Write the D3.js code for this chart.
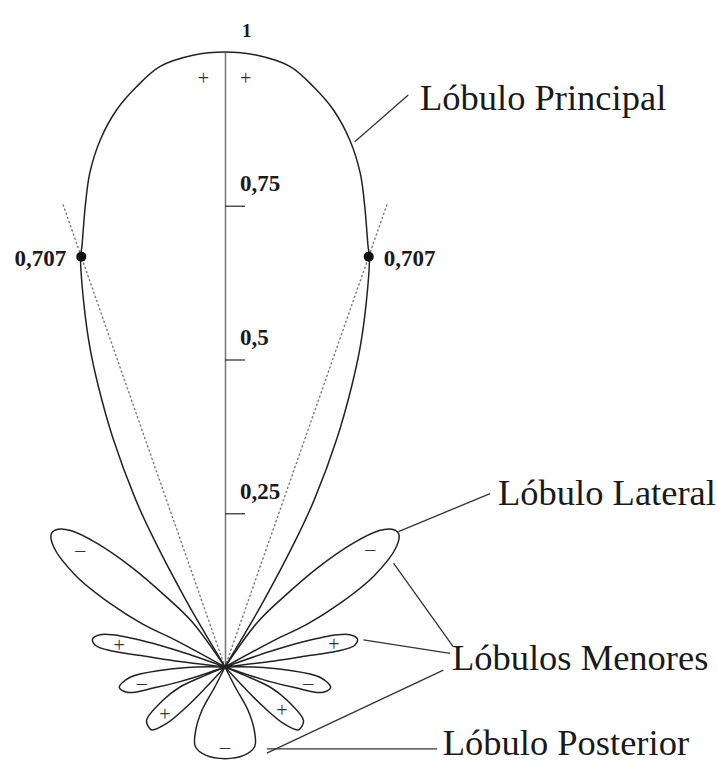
<!DOCTYPE html>
<html><head><meta charset="utf-8">
<script src="https://cdn.jsdelivr.net/npm/d3@7"></script>
<style>body{margin:0;background:#fff}</style>
</head><body>
<svg id="chart" width="717" height="762"></svg>
<script>
// ---------------- data (angles in degrees from the main axis, radii normalised) ----------------
const axisTicks = [0.25, 0.5, 0.75, 1];

const mainLobeAngles = [0, 3, 6.2, 8.7, 11, 13.3, 15.3, 16.9, 18.8, 19.4, 21.2, 22.9, 24.3, 26.05, 28.1, 29.1, 30.3, 30.7];
const mainLobeRadii  = [1, 0.996, 0.982, 0.954, 0.923, 0.881, 0.833, 0.782, 0.722, 0.707, 0.635, 0.565, 0.5, 0.416, 0.308, 0.236, 0.126, 0.06];

const sideLobeAngles = [36, 40, 43, 46, 48.5, 50.5, 52.5, 55, 58.5, 61, 62.5, 61.5];
const sideLobeRadii  = [0.09, 0.15, 0.22, 0.29, 0.335, 0.352, 0.356, 0.34, 0.285, 0.215, 0.15, 0.09];

const minorLobe1Angles = [71, 72.2, 74, 75.5, 78, 80.5, 82, 82.3, 83];
const minorLobe1Radii  = [0.077, 0.134, 0.19, 0.21, 0.22, 0.214, 0.183, 0.13, 0.074];

const minorLobe2Angles = [90, 92.8, 96.3, 101, 104.7, 106.4, 108, 109];
const minorLobe2Radii  = [0.046, 0.10, 0.156, 0.175, 0.163, 0.12, 0.077, 0.031];

const minorLobe3Angles = [113, 114, 118.1, 124.1, 127.9, 130.7, 134, 136, 137];
const minorLobe3Radii  = [0.035, 0.08, 0.114, 0.154, 0.158, 0.157, 0.132, 0.09, 0.044];

const backLobeAngles = [153, 152, 155, 159.5, 168, 180];
const backLobeRadii  = [0.036, 0.08, 0.112, 0.138, 0.147, 0.149];

const halfPowerAngle = 19.3;
const halfPowerValue = 0.707;
const guideLength = 0.8;

// sign marks (polar)
const signAngles  = [-2.1, 2.0, -51, 51, -78, 78, -101, 101, -128, 127, 180];
const signRadii   = [0.958, 0.958, 0.303, 0.304, 0.176, 0.181, 0.138, 0.138, 0.124, 0.116, 0.13];
const signSymbols = ["+", "+", "–", "–", "+", "+", "–", "–", "+", "+", "–"];

// annotation labels (cartesian, normalised units: x right, y up)
const labelTexts = ["Lóbulo Principal", "Lóbulo Lateral", "Lóbulos Menores", "Lóbulo Posterior"];
const labelX = [0.317, 0.444, 0.369, 0.354];
const labelY = [0.906, 0.263, -0.005, -0.143];
const leaderX1 = [0.211, 0.282, 0.274, 0.225, 0.355, 0.068];
const leaderY1 = [0.854, 0.220, 0.169, 0.044, -0.005, -0.133];
const leaderX2 = [0.298, 0.431, 0.371, 0.366, 0.068, 0.345];
const leaderY2 = [0.930, 0.282, 0.033, 0.022, -0.140, -0.133];

// ---------------- drawing ----------------
const svg = d3.select("#chart");
const cx = 225, cy = 667, R = 615;
const rScale = d3.scaleLinear().domain([0, 1]).range([0, R]);
const xScale = d3.scaleLinear().domain([0, 1]).range([cx, cx + R]);
const yScale = d3.scaleLinear().domain([0, 1]).range([cy, cy - R]);
const rad = d => d * Math.PI / 180;

const serif = "'Liberation Serif', 'Times New Roman', serif";

// axis
const fmt = d => d === 1 ? "1" : String(d).replace(".", ",");
const axisG = svg.append("g").attr("transform", `translate(${cx},0)`)
  .call(d3.axisRight(yScale).tickValues(axisTicks).tickSize(20).tickSizeOuter(0).tickFormat(fmt));
axisG.select(".domain").attr("stroke", "#7a7a7a").attr("stroke-width", 1.6);
axisG.selectAll(".tick line").attr("stroke", "#444").attr("stroke-width", 1.4)
  .filter(d => d === 1).remove();
axisG.selectAll(".tick text")
  .attr("x", d => d === 1 ? 17 : 15).attr("y", d => d === 1 ? -16 : -15).attr("dy", 0)
  .attr("text-anchor", "start")
  .attr("fill", "#1a1a1a")
  .style("font-family", serif).style("font-weight", "bold")
  .style("font-size", d => d === 1 ? "19px" : "23px");

const plot = svg.append("g").attr("transform", `translate(${cx},${cy})`);

// guide (dotted) lines
[-1, 1].forEach(s => {
  const a = rad(s * halfPowerAngle);
  plot.append("line")
    .attr("x1", 0).attr("y1", 0)
    .attr("x2", rScale(guideLength) * Math.sin(a)).attr("y2", -rScale(guideLength) * Math.cos(a))
    .attr("stroke", "#777").attr("stroke-width", 1.4)
    .attr("stroke-dasharray", "1.2,3.2").attr("stroke-linecap", "round");
});

const radial = d3.lineRadial()
  .angle(d => rad(d.a))
  .radius(d => rScale(d.r))
  .curve(d3.curveCatmullRom.alpha(0.5));

function zip(angles, radii, s) { return angles.map((a, i) => ({ a: s * a, r: radii[i] })); }

function drawLobe(points) {
  plot.append("path")
    .attr("d", radial(points))
    .attr("fill", "none").attr("stroke", "#222").attr("stroke-width", 1.5)
    .attr("stroke-linejoin", "round");
}

// main lobe
{
  const last = mainLobeAngles[mainLobeAngles.length - 1];
  const left = zip(mainLobeAngles, mainLobeRadii, -1).reverse();
  const right = zip(mainLobeAngles, mainLobeRadii, 1).slice(1);
  drawLobe([{ a: -last, r: 0 }, ...left, ...right, { a: last, r: 0 }]);
}
// side and minor lobes, both sides
[[sideLobeAngles, sideLobeRadii], [minorLobe1Angles, minorLobe1Radii],
 [minorLobe2Angles, minorLobe2Radii], [minorLobe3Angles, minorLobe3Radii]].forEach(([A, Rr]) => {
  [-1, 1].forEach(s => {
    const pts = zip(A, Rr, s);
    drawLobe([{ a: s * A[0], r: 0 }, ...pts, { a: s * A[A.length - 1], r: 0 }]);
  });
});
// back lobe
{
  const right = zip(backLobeAngles, backLobeRadii, 1);
  const left = zip(backLobeAngles, backLobeRadii, -1).reverse().slice(1);
  drawLobe([{ a: backLobeAngles[0], r: 0 }, ...right, ...left, { a: -backLobeAngles[0], r: 0 }]);
}

// half-power points
[-1, 1].forEach(s => {
  const a = rad(s * halfPowerAngle);
  const px = rScale(halfPowerValue) * Math.sin(a), py = -rScale(halfPowerValue) * Math.cos(a);
  plot.append("circle").attr("cx", px).attr("cy", py).attr("r", 5).attr("fill", "#111");
  plot.append("text")
    .attr("x", px + s * 15).attr("y", py + 9)
    .attr("text-anchor", s < 0 ? "end" : "start")
    .attr("fill", "#1a1a1a")
    .style("font-family", serif).style("font-weight", "bold").style("font-size", "23px")
    .text(String(halfPowerValue).replace(".", ","));
});

// signs
signSymbols.forEach((sym, i) => {
  const a = rad(signAngles[i]);
  plot.append("text")
    .attr("x", rScale(signRadii[i]) * Math.sin(a))
    .attr("y", -rScale(signRadii[i]) * Math.cos(a))
    .attr("text-anchor", "middle").attr("dominant-baseline", "central")
    .attr("fill", "#333")
    .style("font-family", serif).style("font-size", "20px")
    .text(sym);
});

// leader lines
leaderX1.forEach((x1, i) => {
  svg.append("line")
    .attr("x1", xScale(x1)).attr("y1", yScale(leaderY1[i]))
    .attr("x2", xScale(leaderX2[i])).attr("y2", yScale(leaderY2[i]))
    .attr("stroke", "#333").attr("stroke-width", 1.3);
});

// labels
labelTexts.forEach((t, i) => {
  svg.append("text")
    .attr("x", xScale(labelX[i])).attr("y", yScale(labelY[i]))
    .attr("fill", "#1a1a1a")
    .style("font-family", serif).style("font-size", "36.5px")
    .text(t);
});
</script>
</body></html>
